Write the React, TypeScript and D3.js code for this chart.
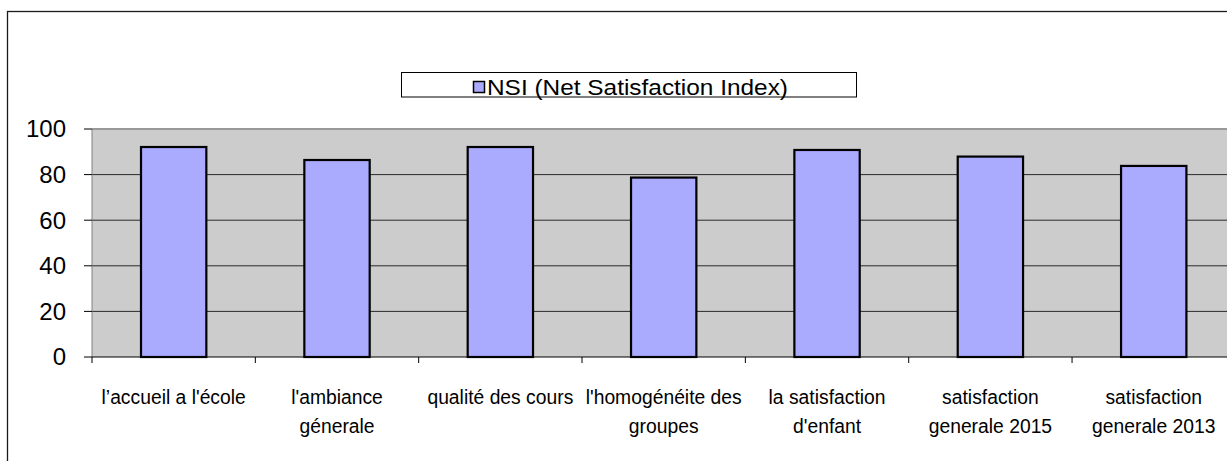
import React from "react";
import * as d3 from "d3";

const categories: string[][] = [
  ["l’accueil a l'école"],
  ["l'ambiance", "génerale"],
  ["qualité des cours"],
  ["l'homogénéite des", "groupes"],
  ["la satisfaction", "d'enfant"],
  ["satisfaction", "generale 2015"],
  ["satisfaction", "generale 2013"],
];
const values: number[] = [92.1, 86.4, 92.1, 78.7, 90.8, 87.9, 83.8];
const yTicks: number[] = [0, 20, 40, 60, 80, 100];
const seriesName = "NSI (Net Satisfaction Index)";

const W = 1227;
const H = 461;
const plotLeft = 92;
const plotRight = 1235.4;
const plotTop = 129;
const plotBottom = 357;
const font = "Arial, 'Liberation Sans', sans-serif";

export default function App() {
  const keys = categories.map((c, i) => String(i));
  const x = d3
    .scaleBand<string>()
    .domain(keys)
    .range([plotLeft, plotRight])
    .paddingInner(0.6)
    .paddingOuter(0.3);
  const y = d3.scaleLinear().domain([0, 100]).range([plotBottom, plotTop]);
  const step = x.step();
  const boundaries = d3.range(categories.length + 1).map((i) => plotLeft + i * step);

  return (
    <svg
      width={W}
      height={H}
      style={{ position: "absolute", left: 0, top: 0, background: "#fff" }}
    >
      {/* outer chart border */}
      <rect x={7.5} y={11.5} width={1300} height={500} fill="#fff" stroke="#1a1a1a" strokeWidth={1.3} />

      {/* plot area */}
      <rect x={plotLeft} y={plotTop} width={plotRight - plotLeft} height={plotBottom - plotTop} fill="#CCCCCC" />
      <line x1={plotLeft} x2={plotRight} y1={plotTop} y2={plotTop} stroke="#999" strokeWidth={2} />

      {/* gridlines */}
      {yTicks
        .filter((t) => t > 0 && t < 100)
        .map((t) => (
          <line key={t} x1={plotLeft} x2={plotRight} y1={y(t)} y2={y(t)} stroke="#2a2a2a" strokeWidth={1} />
        ))}

      {/* y axis */}
      <line x1={plotLeft} x2={plotLeft} y1={plotTop} y2={plotBottom} stroke="#808080" strokeWidth={1} />
      {yTicks.map((t) => (
        <g key={t}>
          <line x1={84} x2={plotLeft} y1={y(t)} y2={y(t)} stroke="#000" strokeWidth={1} />
          <text
            x={66}
            y={y(t)}
            dy="0.35em"
            textAnchor="end"
            fontFamily={font}
            fontSize={24}
            fill="#000"
          >
            {t}
          </text>
        </g>
      ))}

      {/* bars */}
      {values.map((v, i) => (
        <rect
          key={i}
          x={x(String(i))!}
          y={y(v)}
          width={x.bandwidth()}
          height={y(0) - y(v)}
          fill="#AAAAFF"
          stroke="#000"
          strokeWidth={2.2}
        />
      ))}

      {/* x axis */}
      <line x1={plotLeft} x2={plotRight} y1={plotBottom} y2={plotBottom} stroke="#000" strokeWidth={1} />
      {boundaries.map((bx, i) => (
        <line key={i} x1={bx} x2={bx} y1={plotBottom} y2={plotBottom + 6} stroke="#000" strokeWidth={1} />
      ))}
      {categories.map((lines, i) => {
        const cx = x(String(i))! + x.bandwidth() / 2;
        return (
          <g key={i} transform={`translate(${cx},0) scale(0.92,1)`}>
            <text textAnchor="middle" fontFamily={font} fontSize={21} fill="#000">
              {lines.map((ln, j) => (
                <tspan key={j} x={0} y={404.5 + j * 29}>
                  {ln}
                </tspan>
              ))}
            </text>
          </g>
        );
      })}

      {/* legend */}
      <rect x={401.5} y={72.5} width={455} height={24.5} fill="#fff" stroke="#000" strokeWidth={1} />
      <rect x={473.5} y={81.5} width={11} height={11} fill="#AAAAFF" stroke="#000" strokeWidth={1.5} />
      <text
        x={487}
        y={95}
        fontFamily={font}
        fontSize={21.5}
        fill="#000"
        textLength={301}
        lengthAdjust="spacingAndGlyphs"
      >
        {seriesName}
      </text>
    </svg>
  );
}
